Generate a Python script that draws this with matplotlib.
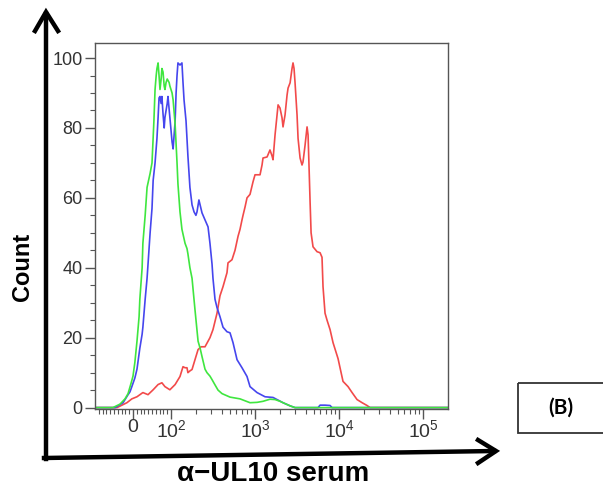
import matplotlib
matplotlib.use("Agg")
import matplotlib.pyplot as plt
from matplotlib.lines import Line2D
from matplotlib.patches import Rectangle

# ---------------------------------------------------------------------------
# Data (fluorescence intensity, cell count)
# ---------------------------------------------------------------------------
green_x = [-100, -53, -34, -21, -13, -5, 0, 5, 10.5, 16, 18, 24, 26, 32, 37, 45, 50,
           55, 58, 61, 63, 66, 68.5, 71, 74, 76, 79, 82, 84, 87, 90, 95, 97, 103, 106,
           112, 118, 121, 128, 135, 147, 155, 159, 168, 178, 193, 210, 222, 234, 254,
           268, 291, 308, 334, 363, 405, 504, 663, 872, 1057, 1245, 1507, 1731, 1983,
           2154, 2614, 2994, 198000]
green_y = [0, 0, 1, 2.5, 4, 7, 9, 13, 19, 26, 31, 40, 47, 55, 63, 67, 70,
           82, 91, 95, 97, 98.6, 95, 91, 94, 97, 96, 92, 91, 93, 94, 93, 92, 90, 88,
           81, 70, 64, 56, 51, 47, 45.5, 44, 40, 37, 28, 19, 17, 14.6, 11,
           10, 9, 8, 6.5, 5, 4, 3, 2.5, 1.4, 1.5, 1.8, 2.4, 2.3, 1.8,
           1.4, 0.5, 0, 0]

blue_x = [-100, -47, -26, -13, -8, -3, 5, 10.5, 18, 24, 26, 32, 37, 39.5, 45, 50, 53,
          58, 63, 66, 68.5, 71, 74, 76, 79, 82, 84, 90, 92, 97, 103, 106, 112, 115,
          118, 121, 128, 135, 139, 143, 151, 159, 168, 178, 188, 198, 204, 215, 222,
          234, 254, 276, 291, 308, 316, 334, 353, 383, 416, 464, 504, 547, 611, 700,
          803, 872, 1057, 1316, 1638, 2154, 2614, 2994, 5627, 5946, 6812, 7821, 8266,
          198000]
blue_y = [0, 0, 1.4, 3.7, 4.5, 6, 8.5, 11, 17, 21, 23, 31, 37, 41, 50, 57, 65,
          70, 77, 83, 88.6, 89, 87, 89, 84, 80, 83, 87, 89, 83, 76, 74, 82, 90,
          95, 98.6, 98, 98.6, 93, 88, 82, 72, 63, 58, 56, 55, 56, 59.4, 58,
          55.7, 53.7, 51.7, 47, 41, 37, 31, 28.6, 26, 23, 21.7, 21.4, 18.6, 13.7, 11.4,
          8.9, 6, 4.3, 3.1, 2.9, 1.4, 0.5, 0, 0, 0.7, 0.7, 0.6, 0,
          0]

red_x = [-100, -42, -16, -3, 10.5, 26, 39.5, 53, 66, 76, 84, 97, 112, 128, 139, 147,
         155, 159, 168, 178, 193, 210, 228, 254, 291, 316, 353, 383, 416, 464, 477,
         532, 578, 628, 663, 700, 720, 761, 803, 872, 947, 1000, 1147, 1212, 1245,
         1391, 1507, 1594, 1638, 1731, 1829, 1881, 1983, 2096, 2154, 2276, 2406, 2473,
         2614, 2756, 2833, 2913, 2994, 3164, 3253, 3438, 3625, 3727, 3938, 4162, 4279,
         4398, 4522, 4648, 4901, 5474, 5946, 6270, 6445, 6812, 7199, 7821, 8478, 9734,
         10580, 11150, 12800, 14290, 16380, 18810, 21540, 23400, 198000]
red_y = [0, 0, 1.4, 2.5, 3.1, 4.3, 3.7, 5.1, 6.6, 7.1, 6, 5.1, 6.6, 8.9, 11.7, 11.4,
         11.4, 10, 10.5, 10.9, 13.7, 16.6, 17.4, 17.4, 20, 22.3, 27, 32, 34.6, 38.6, 41.4,
         42.3, 45, 49, 51, 53.7, 55, 57.4, 60, 61, 64.6, 66.6, 66.6, 69.4, 71.4,
         71.7, 73.7, 72, 70.9, 78, 83.7, 86.6, 85.7, 82.9, 80.3, 83.7, 89.4, 91.4,
         92.9, 97, 98.6, 97, 93, 83.7, 77, 71.4, 69.4, 70.3, 75, 80.3, 78,
         68.6, 58.9, 50, 46, 44.6, 44.3, 43, 34.6, 27, 25, 22.3, 18.6, 14,
         10, 7.5, 6, 4.3, 2.3, 1.4, 0.6, 0, 0]

x_major = [0, 100, 1000, 10000, 100000]
x_major_labels = ["0", r"$\mathregular{10^2}$", r"$\mathregular{10^3}$",
                  r"$\mathregular{10^4}$", r"$\mathregular{10^5}$"]
x_minor = ([-v for v in range(10, 100, 10)] + list(range(10, 100, 10))
           + list(range(200, 1000, 100)) + list(range(2000, 10000, 1000))
           + list(range(20000, 100000, 10000)))
y_major = [0, 20, 40, 60, 80, 100]
y_minor = [5, 10, 15, 25, 30, 35, 45, 50, 55, 65, 70, 75, 85, 90, 95]

# ---------------------------------------------------------------------------
# Figure
# ---------------------------------------------------------------------------
W, H = 603, 491
plt.rcParams["font.family"] = ["Liberation Sans", "DejaVu Sans"]
plt.rcParams["mathtext.fontset"] = "custom"
plt.rcParams["mathtext.rm"] = "Liberation Sans"

fig = plt.figure(figsize=(W / 100, H / 100), dpi=100)


def frac(x0, y0, x1, y1):
    return [x0 / W, 1 - y1 / H, (x1 - x0) / W, (y1 - y0) / H]


ax = fig.add_axes(frac(95, 43, 448, 409))
ax.set_xscale("symlog", linthresh=96, linscale=0.391)
ax.plot(red_x, red_y, color="#f24a4a", lw=1.2)
ax.plot(blue_x, blue_y, color="#4646ee", lw=1.2)
ax.plot(green_x, green_y, color="#3fe63f", lw=1.2)

ax.set_xlim(-100, 198000)
ax.set_ylim(-0.4, 104.3)
ax.set_xticks(x_major)
ax.set_xticklabels(x_major_labels)
ax.set_xticks(x_minor, minor=True)
ax.set_yticks(y_major)
ax.set_yticks(y_minor, minor=True)

for s in ax.spines.values():
    s.set_color("#555555")
    s.set_linewidth(1.0)
ax.tick_params(which="major", length=7, width=1, color="#555555",
               labelsize=13, labelcolor="#333333", pad=2)
ax.tick_params(axis="x", which="major", labelsize=14, pad=0)
ax.tick_params(which="minor", length=3.5, width=0.8, color="#555555")

# ---------------------------------------------------------------------------
# Decorations: arrows, labels, panel box
# ---------------------------------------------------------------------------
ov = fig.add_axes([0, 0, 1, 1], zorder=-1)
ov.set_xlim(0, W)
ov.set_ylim(H, 0)
ov.axis("off")

ov.add_line(Line2D([46, 46], [459, 14], color="black", lw=3.2))
ov.add_line(Line2D([35, 46, 58], [31, 12, 31], color="black", lw=3.2,
                   solid_joinstyle="miter"))
ov.add_line(Line2D([44, 494], [458, 451], color="black", lw=3.2))
ov.add_line(Line2D([478, 496, 478], [440, 451, 463], color="black", lw=3.2,
                   solid_joinstyle="miter"))

fig.text(22 / W, 1 - 267 / H, "Count", rotation=90, fontsize=17,
         fontweight="bold", ha="center", va="center")
fig.text(273 / W, 1 - 474 / H, "α−UL10 serum", fontsize=20,
         fontweight="bold", ha="center", va="center")

ov.add_patch(Rectangle((518, 383), 100, 50, fill=False, ec="#333333", lw=1.3))
fig.text(561 / W, 1 - 408 / H, "(B)", fontsize=15, fontweight="bold",
         family=["Lato", "DejaVu Sans"], ha="center", va="center")

fig.savefig("out.png", dpi=100)
